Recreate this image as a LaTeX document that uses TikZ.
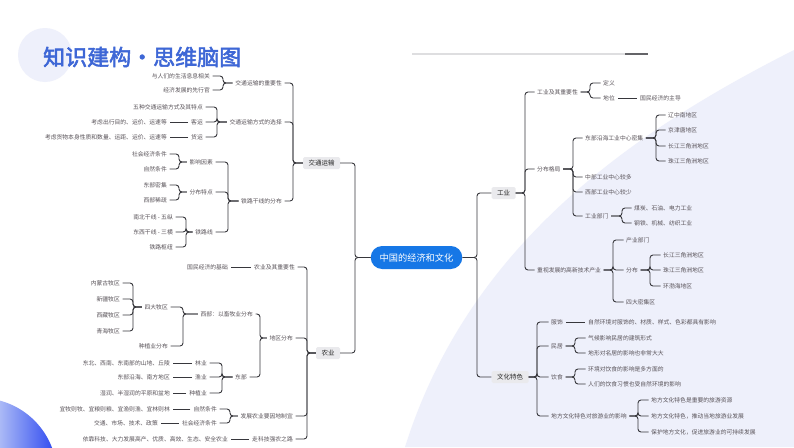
\documentclass[tikz,border=0pt]{standalone}
\usepackage{fontspec}
\newfontfamily\cjk{Noto Sans CJK SC}
\newfontfamily\cjkheavy[FakeBold=2.5]{Noto Sans CJK SC}
\definecolor{txt}{RGB}{88,82,88}
\definecolor{lineclr}{RGB}{55,55,60}
\definecolor{boxfill}{RGB}{234,234,237}
\definecolor{boxtxt}{RGB}{40,40,40}
\definecolor{cblue}{RGB}{22,119,230}
\definecolor{lav}{RGB}{238,240,251}
\definecolor{titleblue}{RGB}{62,103,214}
\definecolor{gradA}{RGB}{170,185,246}
\definecolor{gradB}{RGB}{40,68,240}
\tikzset{
 lbl/.style={font=\cjk\fontsize{5.8}{7}\selectfont, text=txt, inner sep=0pt},
 le/.style={lbl, anchor=east},
 ri/.style={lbl, anchor=west},
 box/.style={font=\cjk\fontsize{6.5}{8}\selectfont, text=boxtxt, fill=boxfill, rounded corners=1.5pt, inner xsep=5.5pt, inner ysep=0pt, minimum height=12pt},
 conn/.style={draw=lineclr, line width=0.9pt, rounded corners=3pt},
}
\newcommand\bR[3]{\draw[conn] ([xshift=2.5pt]#1.east) -- (#1.east -| #2,0) |- ([xshift=-2.5pt]#3.west);}
\newcommand\bL[3]{\draw[conn] ([xshift=-2.5pt]#1.west) -- (#1.west -| #2,0) |- ([xshift=2.5pt]#3.east);}
\newcommand\sR[2]{\draw[conn] ([xshift=3pt]#1.east) -- ([xshift=-3pt]#2.west);}
\newcommand\sL[2]{\draw[conn] ([xshift=-3pt]#1.west) -- ([xshift=3pt]#2.east);}
\begin{document}
\begin{tikzpicture}[x=1pt,y=-1pt]
\useasboundingbox (0,0) rectangle (794,447);
\fill[white] (0,0) rectangle (794,447);
% backgrounds
\fill[lav] (794,50) .. controls (640,128) and (470,240) .. (405,447) -- (794,447) -- cycle;
\fill[lav] (45,55) circle (27);
\begin{scope}
\clip (-20,475) circle (77);
\shade[left color=gradA, right color=gradB] (0,390) rectangle (58,447);
\end{scope}
\draw[line width=1.5pt, draw={rgb,255:red,222;green,222;blue,224}] (412,54) -- (648,54);
\draw[line width=2pt, draw={rgb,255:red,100;green,100;blue,104}] (625,54) -- (648,54);
% title
\node[font=\cjkheavy\fontsize{22}{24}\selectfont, text=titleblue, anchor=west, inner sep=0pt] (title) at (43,57) {知识建构・思维脑图};
% center
\node[font=\cjk\fontsize{9.2}{11}\selectfont, text=white, fill=cblue, rounded corners=11.5pt, minimum height=23pt, inner xsep=9pt, inner ysep=0pt] (c) at (416.5,257.5) {中国的经济和文化};
\node[box] (jt) at (321.5,163) {交通运输};
\node[box] (ny) at (328,353) {农业};
\node[box] (gy) at (503.5,193) {工业};
\node[box] (wh) at (510,377) {文化特色};
\draw[conn] (c.west) -- (c.west -| 355,0) |- (jt.east);
\draw[conn] (c.west) -- (c.west -| 355,0) |- (ny.east);
\draw[conn] (c.east) -- (c.east -| 477,0) |- (gy.west);
\draw[conn] (c.east) -- (c.east -| 477,0) |- (wh.west);
% ---------- 交通运输
\node[le] (j1) at (282,83) {交通运输的重要性};
\node[le] (j2) at (282,122) {交通运输方式的选择};
\node[le] (j3) at (282,201) {铁路干线的分布};
\foreach \k in {j1,j2,j3}{\draw[conn] (jt.west) -- (jt.west -| 293,0) |- ([xshift=2.5pt]\k.east);}
\node[le] (j11) at (210,76) {与人们的生活息息相关};
\node[le] (j12) at (210,90) {经济发展的先行官};
\bL{j1}{223}{j11}\bL{j1}{223}{j12}
\node[le] (j21) at (203,107) {五种交通运输方式及其特点};
\node[le] (j22) at (203,122) {客运};
\node[le] (j23) at (203,137) {货运};
\bL{j2}{217}{j21}\bL{j2}{217}{j22}\bL{j2}{217}{j23}
\node[le] (j221) at (167,122) {考虑出行目的、运价、运速等};
\node[le] (j231) at (167,137) {考虑货物本身性质和数量、运距、运价、运速等};
\sL{j22}{j221}\sL{j23}{j231}
\node[le] (j31) at (213,162) {影响因素};
\node[le] (j32) at (213,192) {分布特点};
\node[le] (j33) at (213,232) {铁路线};
\bL{j3}{228}{j31}\bL{j3}{228}{j32}\bL{j3}{228}{j33}
\node[le] (j311) at (167,154) {社会经济条件};
\node[le] (j312) at (167,169) {自然条件};
\bL{j31}{179}{j311}\bL{j31}{179}{j312}
\node[le] (j321) at (167,185) {东部密集};
\node[le] (j322) at (167,200) {西部稀疏};
\bL{j32}{179}{j321}\bL{j32}{179}{j322}
\node[le] (j331) at (173,217) {南北干线 - 五纵};
\node[le] (j332) at (173,232) {东西干线 - 三横};
\node[le] (j333) at (173,247) {铁路枢纽};
\bL{j33}{186}{j331}\bL{j33}{186}{j332}\bL{j33}{186}{j333}
% ---------- 农业
\node[le] (n1) at (295,267) {农业及其重要性};
\node[le] (n2) at (293,338) {地区分布};
\node[le] (n3) at (293,416) {发展农业要因地制宜};
\node[le] (n4) at (293,439) {走科技强农之路};
\foreach \k in {n1,n2,n3,n4}{\draw[conn] (ny.west) -- (ny.west -| 307,0) |- ([xshift=2.5pt]\k.east);}
\node[le] (n11) at (228,267) {国民经济的基础};
\sL{n1}{n11}
\node[le] (n21) at (253,314) {西部：以畜牧业分布};
\node[le] (n22) at (247,377) {东部};
\bL{n2}{260}{n21}\bL{n2}{260}{n22}
\node[le] (n211) at (168,307) {四大牧区};
\node[le] (n212) at (168,346) {种植业分布};
\bL{n21}{183}{n211}\bL{n21}{183}{n212}
\node[le] (m1) at (120,283) {内蒙古牧区};
\node[le] (m2) at (120,299) {新疆牧区};
\node[le] (m3) at (120,315) {西藏牧区};
\node[le] (m4) at (120,331) {青海牧区};
\foreach \k in {m1,m2,m3,m4}{\bL{n211}{133}{\k}}
\node[le] (n221) at (207,363) {林业};
\node[le] (n222) at (207,377) {渔业};
\node[le] (n223) at (207,393) {种植业};
\bL{n22}{222}{n221}\bL{n22}{222}{n222}\bL{n22}{222}{n223}
\node[le] (n2211) at (170,363) {东北、西南、东南部的山地、丘陵};
\node[le] (n2221) at (170,377) {东部沿海、南方地区};
\node[le] (n2231) at (170,393) {湿润、半湿润的平原和盆地};
\sL{n221}{n2211}\sL{n222}{n2221}\sL{n223}{n2231}
\node[le] (n31) at (217,409) {自然条件};
\node[le] (n32) at (217,423) {社会经济条件};
\bL{n3}{230}{n31}\bL{n3}{230}{n32}
\node[le] (n311) at (170,409) {宜牧则牧、宜粮则粮、宜渔则渔、宜林则林};
\node[le] (n321) at (158,423) {交通、市场、技术、政策};
\sL{n31}{n311}\sL{n32}{n321}
\node[le] (n41) at (228,439) {依靠科技、大力发展高产、优质、高效、生态、安全农业};
\sL{n4}{n41}
% ---------- 工业
\node[ri] (g1) at (537,92) {工业及其重要性};
\node[ri] (g2) at (537,169) {分布格局};
\node[ri] (g3) at (537,270) {重视发展的高新技术产业};
\foreach \k in {g1,g2,g3}{\draw[conn] (gy.east) -- (gy.east -| 525,0) |- ([xshift=-2.5pt]\k.west);}
\node[ri] (g11) at (603,83) {定义};
\node[ri] (g12) at (603,98) {地位};
\bR{g1}{590}{g11}\bR{g1}{590}{g12}
\node[ri] (g121) at (640,98) {国民经济的主导};
\sR{g12}{g121}
\node[ri] (g21) at (585,138) {东部沿海工业中心密集};
\node[ri] (g22) at (585,177) {中部工业中心较多};
\node[ri] (g23) at (585,192) {西部工业中心较少};
\node[ri] (g24) at (585,216) {工业部门};
\foreach \k in {g21,g22,g23,g24}{\bR{g2}{573}{\k}}
\node[ri] (e1) at (668,115) {辽中南地区};
\node[ri] (e2) at (668,130) {京津唐地区};
\node[ri] (e3) at (668,146) {长江三角洲地区};
\node[ri] (e4) at (668,161) {珠江三角洲地区};
\foreach \k in {e1,e2,e3,e4}{\bR{g21}{656}{\k}}
\node[ri] (g241) at (634,208) {煤炭、石油、电力工业};
\node[ri] (g242) at (634,223) {钢铁、机械、纺织工业};
\bR{g24}{622}{g241}\bR{g24}{622}{g242}
\node[ri] (g31) at (626,240) {产业部门};
\node[ri] (g32) at (626,270) {分布};
\node[ri] (g33) at (626,302) {四大密集区};
\bR{g3}{613}{g31}\bR{g3}{613}{g32}\bR{g3}{613}{g33}
\node[ri] (f1) at (663,255) {长江三角洲地区};
\node[ri] (f2) at (663,270) {珠江三角洲地区};
\node[ri] (f3) at (663,286) {环渤海地区};
\bR{g32}{650}{f1}\bR{g32}{650}{f2}\bR{g32}{650}{f3}
% ---------- 文化特色
\node[ri] (w1) at (551,322) {服饰};
\node[ri] (w2) at (551,346) {民居};
\node[ri] (w3) at (551,377) {饮食};
\node[ri] (w4) at (551,416) {地方文化特色对旅游业的影响};
\foreach \k in {w1,w2,w3,w4}{\draw[conn] (wh.east) -- (wh.east -| 537,0) |- ([xshift=-2.5pt]\k.west);}
\node[ri] (w11) at (588,322) {自然环境对服饰的、材质、样式、色彩都具有影响};
\sR{w1}{w11}
\node[ri] (w21) at (588,338) {气候影响民居的建筑形式};
\node[ri] (w22) at (588,353) {地形对名居的影响也非常大大};
\bR{w2}{575}{w21}\bR{w2}{575}{w22}
\node[ri] (w31) at (588,369) {环境对饮食的影响是多方面的};
\node[ri] (w32) at (588,384) {人们的饮食习惯也受自然环境的影响};
\bR{w3}{575}{w31}\bR{w3}{575}{w32}
\node[ri] (w41) at (651,400) {地方文化特色是重要的旅游资源};
\node[ri] (w42) at (651,416) {地方文化特色，推动当地旅游业发展};
\node[ri] (w43) at (651,432) {保护地方文化，促进旅游业的可持续发展};
\bR{w4}{638}{w41}\bR{w4}{638}{w42}\bR{w4}{638}{w43}
\end{tikzpicture}
\end{document}
